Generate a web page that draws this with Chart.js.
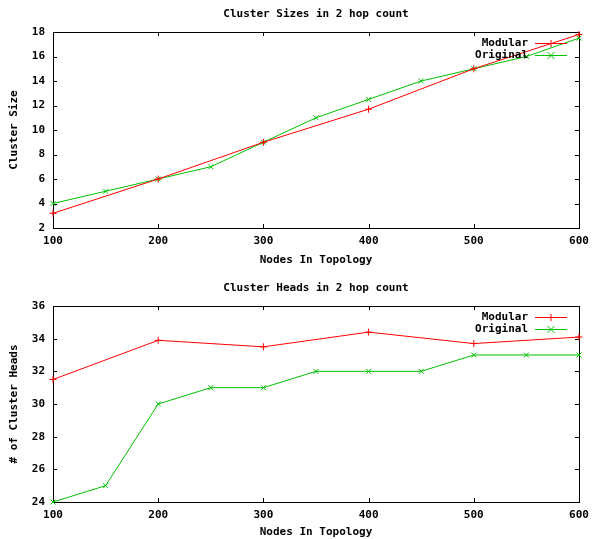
<!DOCTYPE html>
<html><head><meta charset="utf-8">
<script src="https://cdn.jsdelivr.net/npm/chart.js@4.4.0/dist/chart.umd.min.js"></script>
<style>html,body{margin:0;padding:0;background:#fff;} canvas{display:block;}</style>
</head><body>
<canvas id="c1" width="592" height="270"></canvas>
<canvas id="c2" width="592" height="269"></canvas>
<script>
// ---- data ----
const seriesNames = ['Modular', 'Original'];
const nodesModular = [100, 200, 300, 400, 500, 600];
const nodesOriginal = [100, 150, 200, 250, 300, 350, 400, 450, 500, 550, 600];
const sizeModular = [3.2, 6.0, 9.0, 11.7, 15.0, 17.8];
const sizeOriginal = [4, 5, 6, 7, 9, 11, 12.5, 14, 15, 16, 17.5];
const headsModular = [31.5, 33.9, 33.5, 34.4, 33.7, 34.1];
const headsOriginal = [24, 25, 30, 31, 31, 32, 32, 32, 33, 33, 33];
const xTickValues = [100, 200, 300, 400, 500, 600];
const sizeTickValues = [2, 4, 6, 8, 10, 12, 14, 16, 18];
const headsTickValues = [24, 26, 28, 30, 32, 34, 36];
const titles = ['Cluster Sizes in 2 hop count', 'Cluster Heads in 2 hop count'];
const xTitle = 'Nodes In Topology';
const yTitles = ['Cluster Size', '# of Cluster Heads'];

const RED = '#ff0000';
const GREEN = '#00c000';
const FONT = '"DejaVu Sans Mono", "Liberation Mono", monospace';

Chart.defaults.font.family = FONT;
Chart.defaults.font.size = 11;
Chart.defaults.font.weight = 'bold';
Chart.defaults.color = '#000';

function pts(xs, ys) { return xs.map((x, i) => ({x: x, y: ys[i]})); }

function drawMarker(ctx, style, x, y, r) {
  ctx.beginPath();
  if (style === 'cross') {
    ctx.moveTo(x - r, y); ctx.lineTo(x + r, y);
    ctx.moveTo(x, y - r); ctx.lineTo(x, y + r);
  } else {
    ctx.moveTo(x - r, y - r); ctx.lineTo(x + r, y + r);
    ctx.moveTo(x - r, y + r); ctx.lineTo(x + r, y - r);
  }
  ctx.stroke();
}

const framePlugin = {
  id: 'gnuFrame',
  beforeDatasetsDraw(chart) {
    const ctx = chart.ctx, a = chart.chartArea;
    const xs = chart.scales.x, ys = chart.scales.y;
    ctx.save();
    ctx.strokeStyle = '#000';
    ctx.lineWidth = 1;
    ctx.strokeRect(Math.round(a.left) + 0.5, Math.round(a.top) + 0.5,
                   Math.round(a.right - a.left), Math.round(a.bottom - a.top));
    const L = 4;
    ctx.beginPath();
    xs.ticks.forEach(t => {
      const px = Math.round(xs.getPixelForValue(t.value)) + 0.5;
      ctx.moveTo(px, a.bottom); ctx.lineTo(px, a.bottom - L);
      ctx.moveTo(px, a.top); ctx.lineTo(px, a.top + L);
    });
    ys.ticks.forEach(t => {
      const py = Math.round(ys.getPixelForValue(t.value)) + 0.5;
      ctx.moveTo(a.left, py); ctx.lineTo(a.left + L, py);
      ctx.moveTo(a.right, py); ctx.lineTo(a.right - L, py);
    });
    ctx.stroke();
    ctx.restore();
  },
  afterDatasetsDraw(chart) {
    const ctx = chart.ctx, a = chart.chartArea;
    ctx.save();
    ctx.font = 'bold 11px ' + FONT;
    ctx.textAlign = 'right';
    ctx.textBaseline = 'middle';
    chart.data.datasets.forEach((ds, i) => {
      const y = Math.round(a.top + 10.5 + i * 12) + 0.5;
      ctx.fillStyle = '#000';
      ctx.fillText(ds.label, a.right - 51, y);
      ctx.strokeStyle = ds.borderColor;
      ctx.lineWidth = 1;
      ctx.beginPath();
      ctx.moveTo(a.right - 44, y); ctx.lineTo(a.right - 12, y);
      ctx.stroke();
      drawMarker(ctx, ds.pointStyle, a.right - 28, y, 3.5);
    });
    ctx.restore();
  }
};

function makeChart(id, ysModular, ysOriginal, yTicks, title, yTitle, cfg) {
  return new Chart(document.getElementById(id), {
    type: 'line',
    data: {
      datasets: [
        {label: seriesNames[0], data: pts(nodesModular, ysModular), borderColor: RED, backgroundColor: RED,
         pointStyle: 'cross', pointRadius: 3.5, pointBorderWidth: 1, borderWidth: 1, tension: 0, clip: false},
        {label: seriesNames[1], data: pts(nodesOriginal, ysOriginal), borderColor: GREEN, backgroundColor: GREEN,
         pointStyle: 'crossRot', pointRadius: 3.5, pointBorderWidth: 1, borderWidth: 1, tension: 0, clip: false}
      ]
    },
    options: {
      responsive: false,
      animation: false,
      devicePixelRatio: 1,
      layout: {padding: {left: 0, right: 13, top: 0, bottom: 0}},
      plugins: {
        legend: {display: false},
        tooltip: {enabled: false},
        title: {display: true, fullSize: false, text: title, font: {size: 11, weight: 'bold'}, color: '#000',
                padding: {top: cfg.titleTop, bottom: cfg.titleBottom}}
      },
      scales: {
        x: {
          type: 'linear', min: 100, max: 600,
          afterBuildTicks: s => { s.ticks = xTickValues.map(v => ({value: v})); },
          afterFit: s => { s.height = cfg.xHeight; s.paddingLeft = 0; s.paddingRight = 0; },
          grid: {display: false, drawTicks: false},
          border: {display: false},
          ticks: {padding: 7, color: '#000', maxRotation: 0, autoSkip: false},
          title: {display: true, text: xTitle, color: '#000', font: {size: 11, weight: 'bold'},
                  padding: {top: 0, bottom: cfg.xTitleBottom}}
        },
        y: {
          type: 'linear', min: yTicks[0], max: yTicks[yTicks.length - 1],
          afterBuildTicks: s => { s.ticks = yTicks.map(v => ({value: v})); },
          afterFit: s => { s.width = 53; s.paddingTop = 0; s.paddingBottom = 0; },
          grid: {display: false, drawTicks: false},
          border: {display: false},
          ticks: {padding: 8, color: '#000', autoSkip: false},
          title: {display: true, text: yTitle, color: '#000', font: {size: 11, weight: 'bold'},
                  padding: {top: 8, bottom: 0}}
        }
      }
    },
    plugins: [framePlugin]
  });
}

makeChart('c1', sizeModular, sizeOriginal, sizeTickValues, titles[0], yTitles[0],
          {titleTop: 8, titleBottom: 10.8, xHeight: 42, xTitleBottom: 3.4});
makeChart('c2', headsModular, headsOriginal, headsTickValues, titles[1], yTitles[1],
          {titleTop: 11.4, titleBottom: 11.4, xHeight: 37, xTitleBottom: 0});
</script>
</body></html>
